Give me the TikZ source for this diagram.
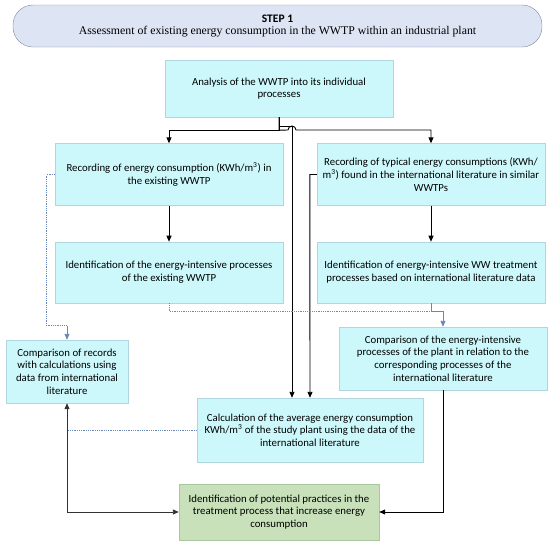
\documentclass[tikz,border=0pt]{standalone}
\usepackage{fontspec}
\setmainfont{Carlito}
\newfontfamily\stepserif{Liberation Serif}
\usetikzlibrary{positioning,arrows.meta}
\definecolor{boxcyan}{RGB}{204,248,251}
\definecolor{boxedge}{RGB}{178,214,224}
\definecolor{resultgreen}{RGB}{200,225,186}
\definecolor{resultedge}{RGB}{170,200,160}
\definecolor{stepfill}{RGB}{221,228,243}
\definecolor{stepedge}{RGB}{128,138,160}
\definecolor{linkblue}{RGB}{105,135,185}
\tikzset{
  process-node/.style={draw=boxedge, fill=boxcyan, minimum width=228pt,
    minimum height=62pt, font=\fontsize{10.8}{12.6}\selectfont, align=center,
    inner sep=2pt},
  result-node/.style={draw=resultedge, fill=resultgreen, minimum width=200pt,
    minimum height=56pt, font=\fontsize{10.8}{12.6}\selectfont, align=center,
    inner sep=2pt},
  step-node/.style={draw=stepedge, fill=stepfill, rounded corners=20pt,
    minimum width=529pt, minimum height=42pt, align=center, inner sep=2pt},
  flow-arrow/.style={-{Triangle[length=6pt, width=5pt]}, line width=0.9pt, draw=black},
  both-arrow/.style={{Triangle[length=6pt, width=5pt]}-{Triangle[length=6pt, width=5pt]},
    line width=0.9pt, draw=black!80},
  link-arrow/.style={-{Triangle[length=6pt, width=5pt]}, line width=0.9pt, draw=linkblue},
  link-dotted/.style={densely dotted, line width=0.8pt, draw=linkblue}
}
\begin{document}
\begin{tikzpicture}[x=1pt, y=-1pt]
\useasboundingbox (0,0) rectangle (550,550);

% Step banner at top
\node[step-node] (step) at (277.5,26)
  {{\fontsize{11.5}{14}\selectfont\bfseries STEP 1}\\
   {\stepserif\fontsize{11.8}{14}\selectfont Assessment of existing energy consumption in the WWTP within an industrial plant}};

% Analysis box
\node[process-node, minimum height=57pt] (analysis) at (279,88.5)
  {Analysis of the WWTP into its individual\\processes};

% Two columns: existing plant (left), literature (right)
\node[process-node] (recleft) at (169,174.5)
  {Recording of energy consumption (KWh/m\textsuperscript{3}) in\\the existing WWTP};
\node[process-node, below=36pt of recleft, minimum height=61pt] (identleft)
  {Identification of the energy-intensive processes\\of the existing WWTP};

\node[process-node] (recright) at (431,174.5)
  {Recording of typical energy consumptions (KWh/\\m\textsuperscript{3}) found in the international literature in similar\\WWTPs};
\node[process-node, below=36pt of recright, minimum height=61pt] (identright)
  {Identification of energy-intensive WW treatment\\processes based on international literature data};

% Comparisons
\node[process-node, minimum width=122pt, minimum height=63pt] (compleft) at (67,371.5)
  {Comparison of records\\with calculations using\\data from international\\literature};
\node[process-node, minimum width=208pt, minimum height=63pt] (compright) at (443,358.5)
  {Comparison of the energy-intensive\\processes of the plant in relation to the\\corresponding processes of the\\international literature};

% Calculation and result
\node[process-node, minimum width=226pt, minimum height=64pt] (calc) at (310,430)
  {Calculation of the average energy consumption\\KWh/m\textsuperscript{3} of the study plant using the data of the\\international literature};
\node[result-node] (green) at (279,512)
  {Identification of potential practices in the\\treatment process that increase energy\\consumption};

% Arrows from analysis
\draw[flow-arrow] (analysis.south) -- ++(0,13) -| (recleft.north);
\draw[flow-arrow] (analysis.south) -- ++(0,13) -- (288,130)
  arc[start angle=180, end angle=360, radius=4] -| (recright.north);
\draw[flow-arrow] (analysis.south) -- ++(0,9) -| ([xshift=-18pt]calc.north);
\draw[flow-arrow] (recright.west) -- ++(-7,0) -- (calc.north);

% Down the columns
\draw[flow-arrow] (recleft.south) -- (identleft.north);
\draw[flow-arrow] (recright.south) -- (identright.north);

% Dotted links
\draw[link-dotted] (recleft.west) -- ++(-8,0) |- ([yshift=14pt]compleft.north);
\draw[link-arrow] ([yshift=14pt]compleft.north) -- (compleft.north);
\draw[link-dotted] (identleft.south) -- ++(0,8) -| (identright.south);
\draw[link-arrow] (identright.south) -- ++(0,8) -| (compright.north);
\draw[link-dotted] (calc.west) -- (calc.west -| compleft.south);

% Into the result
\draw[flow-arrow] (compright.south) |- (green.east);
\draw[both-arrow] (green.west) -| (compleft.south);
\end{tikzpicture}
\end{document}
